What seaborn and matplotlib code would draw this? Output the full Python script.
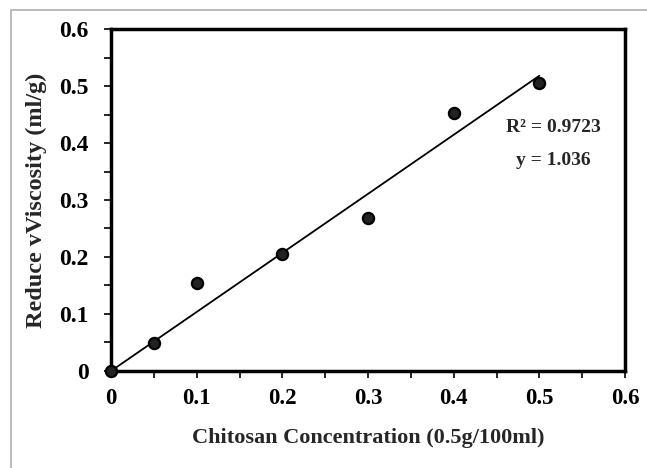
import numpy as np
import pandas as pd
import seaborn as sns
import matplotlib.pyplot as plt
from matplotlib.ticker import MultipleLocator, FuncFormatter
from matplotlib.patches import Rectangle

# data
conc = [0, 0.05, 0.1, 0.2, 0.3, 0.4, 0.5]
visc = [0, 0.049, 0.154, 0.206, 0.268, 0.452, 0.506]
slope = 1.036
r2 = 0.9723

df = pd.DataFrame({'conc': conc, 'visc': visc})
fit = pd.DataFrame({'conc': [min(conc), max(conc)]})
fit['visc'] = fit['conc'] * slope

sns.set_style('ticks')
plt.rcParams['font.family'] = ['Liberation Serif', 'DejaVu Serif']
plt.rcParams['font.weight'] = 'bold'

fig = plt.figure(figsize=(6.47, 4.68), dpi=100)
ax = fig.add_axes([0.1716, 0.2073, 0.7944, 0.7307])

# outer frame of the original picture
fig.patches.append(Rectangle((11 / 647, -0.1), 1.2, 1.1 - 10 / 468, transform=fig.transFigure,
                             fill=False, edgecolor='#b0b0b0', linewidth=1.2))

sns.lineplot(data=fit, x='conc', y='visc', ax=ax, color='black', linewidth=1.3)
sns.scatterplot(data=df, x='conc', y='visc', ax=ax, s=65, color='#222222',
                edgecolor='black', linewidth=1.6, zorder=3, clip_on=False)

ax.set_xlim(0, 0.6)
ax.set_ylim(0, 0.6)
ax.xaxis.set_major_locator(MultipleLocator(0.1))
ax.xaxis.set_minor_locator(MultipleLocator(0.05))
ax.yaxis.set_major_locator(MultipleLocator(0.1))
ax.yaxis.set_minor_locator(MultipleLocator(0.05))
fmt = FuncFormatter(lambda v, p: '{:g}'.format(round(v, 2)))
ax.xaxis.set_major_formatter(fmt)
ax.yaxis.set_major_formatter(fmt)
ax.tick_params(which='both', direction='out', length=5, width=1.2, colors='black')
ax.tick_params(axis='x', which='major', labelsize=16.5, pad=7)
ax.tick_params(axis='y', which='major', labelsize=17, pad=11)

for s in ax.spines.values():
    s.set_visible(True)
    s.set_linewidth(2.5)
    s.set_color('black')

ax.set_xlabel('Chitosan Concentration (0.5g/100ml)', fontsize=16, fontweight='bold', labelpad=14)
ax.set_ylabel('Reduce vViscosity (ml/g)', fontsize=17.5, fontweight='bold', labelpad=9)

ax.text(0.516, 0.428, 'R² = {:.4f}'.format(r2), fontsize=14, fontweight='bold', ha='center', va='center')
ax.text(0.516, 0.370, 'y = {:.3f}'.format(slope), fontsize=14, fontweight='bold', ha='center', va='center')

fig.savefig('out.png', dpi=100)
